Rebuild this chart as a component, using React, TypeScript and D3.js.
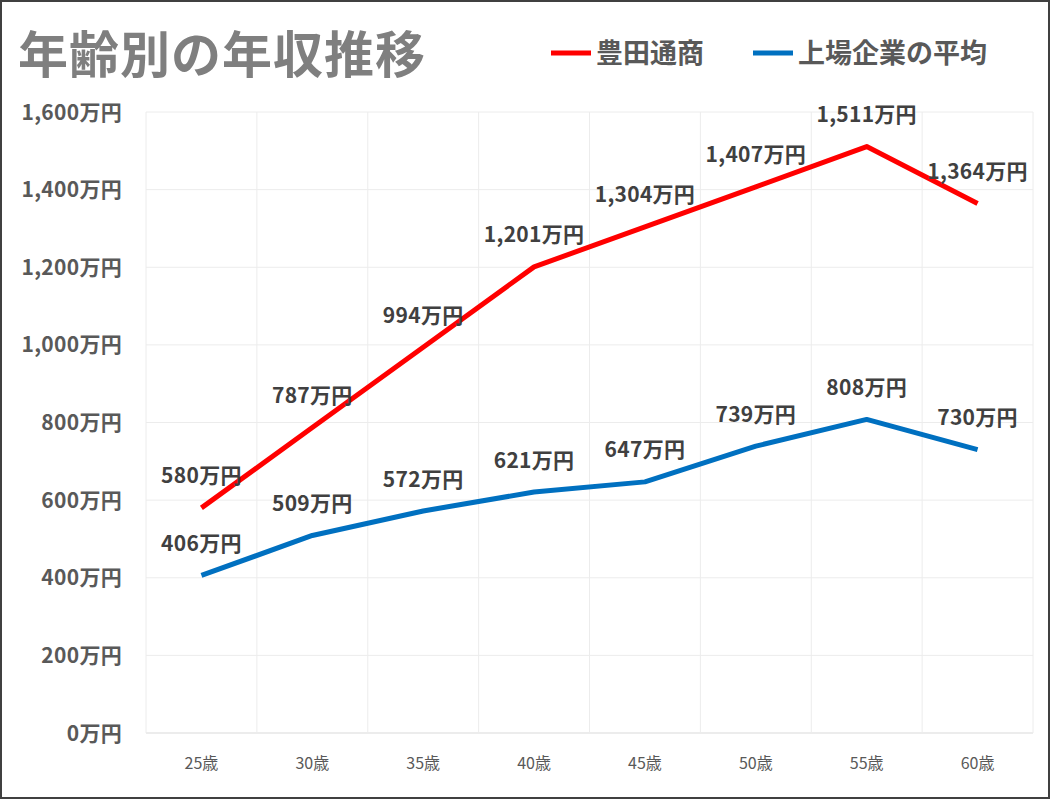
import React from "react";
import * as d3 from "d3";

const categories = ["25歳", "30歳", "35歳", "40歳", "45歳", "50歳", "55歳", "60歳"];
const toyotaTsusho = [580, 787, 994, 1201, 1304, 1407, 1511, 1364];
const listedAverage = [406, 509, 572, 621, 647, 739, 808, 730];
const yTicks = [0, 200, 400, 600, 800, 1000, 1200, 1400, 1600];
const seriesNames = ["豊田通商", "上場企業の平均"];
const seriesColors = ["#ff0000", "#0070c0"];

const W = 1050;
const H = 799;
const left = 146;
const right = 1033;
const top = 112;
const bottom = 733;
const font = "'Noto Sans CJK JP', 'Noto Sans', sans-serif";

export default function App() {
  const x = d3.scaleBand<string>().domain(categories).range([left, right]).padding(0);
  const y = d3.scaleLinear().domain([0, 1600]).range([bottom, top]);
  const line = d3
    .line<number>()
    .x((_, i) => (x(categories[i]) as number) + x.bandwidth() / 2)
    .y((d) => y(d));
  const fmt = d3.format(",");
  const series = [toyotaTsusho, listedAverage];

  return (
    <svg
      width={W}
      height={H}
      style={{ position: "absolute", left: 0, top: 0, display: "block" }}
      fontFamily={font}
    >
      <rect x={1} y={1} width={W - 2} height={H - 2} fill="#ffffff" stroke="#404040" strokeWidth={2} />
      {yTicks.map((t) => (
        <line key={"h" + t} x1={left} x2={right} y1={y(t)} y2={y(t)} stroke={t === 0 ? "#d9d9d9" : "#ececec"} strokeWidth={1} />
      ))}
      {categories.map((c) => (
        <line key={"v" + c} x1={x(c)} x2={x(c)} y1={top} y2={bottom} stroke="#ececec" strokeWidth={1} />
      ))}
      <line x1={right} x2={right} y1={top} y2={bottom} stroke="#ececec" strokeWidth={1} />
      {yTicks.map((t) => (
        <text key={"yl" + t} x={122} y={y(t)} dy="0.36em" textAnchor="end" fontSize={21} fontWeight="bold" fill="#595959" letterSpacing={0.3}>
          {fmt(t) + "万円"}
        </text>
      ))}
      {categories.map((c) => (
        <text key={"xl" + c} x={(x(c) as number) + x.bandwidth() / 2} y={769} textAnchor="middle" fontSize={16} fill="#595959">
          {c}
        </text>
      ))}
      {series.map((s, si) => (
        <path key={"s" + si} d={line(s) || ""} fill="none" stroke={seriesColors[si]} strokeWidth={5} strokeLinejoin="round" />
      ))}
      {series.map((s, si) =>
        s.map((v, i) => (
          <text
            key={"dl" + si + "-" + i}
            x={(x(categories[i]) as number) + x.bandwidth() / 2}
            y={y(v) - 32}
            dy="0.36em"
            textAnchor="middle"
            fontSize={21}
            fontWeight="bold"
            fill="#404040"
            letterSpacing={0.3}
          >
            {fmt(v) + "万円"}
          </text>
        ))
      )}
      <text x={18} y={73} fontSize={50} fontWeight="bold" fill="#7f7f7f" letterSpacing={1}>
        年齢別の年収推移
      </text>
      {seriesNames.map((n, i) => {
        const lx = i === 0 ? 551 : 753;
        return (
          <g key={"lg" + i}>
            <line x1={lx} x2={lx + 40} y1={53} y2={53} stroke={seriesColors[i]} strokeWidth={5} />
            <text x={lx + 45} y={53} dy="0.36em" fontSize={27} fontWeight="bold" fill="#595959">
              {n}
            </text>
          </g>
        );
      })}
    </svg>
  );
}
